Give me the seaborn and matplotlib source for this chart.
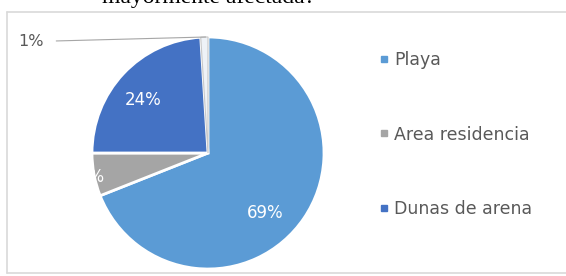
import numpy as np
import seaborn as sns
import matplotlib.pyplot as plt
from matplotlib.lines import Line2D

labels = ['Playa', 'Area residencia', 'Dunas de arena', 'Otro']
values = [69, 6, 24, 1]
pct_text = ['69%', '6%', '24%', '1%']
colors = ['#5B9BD5', '#A5A5A5', '#4472C4', '#EEF2F7']

sns.set_style('white')
plt.rcParams['font.family'] = ['DejaVu Sans']

fig = plt.figure(figsize=(5.66, 2.76), dpi=100)

# chart frame: top, left and bottom edges only, the right side runs off the image
x0, y0, y1 = 7 / 566, 3 / 276, 264 / 276
for xs, ys in [([x0, 1], [y1, y1]), ([x0, x0], [y0, y1]), ([x0, 1], [y0, y0])]:
    fig.add_artist(Line2D(xs, ys, transform=fig.transFigure, color='#d9d9d9', lw=1.2))

# cut-off question title above the chart
fig.text(209 / 566, 1 - 3.5 / 276, 'mayormente afectada?', ha='center', va='baseline',
         family='Liberation Serif', fontsize=17, color='black')

ax = fig.add_axes([92 / 566, 7 / 276, 232 / 566, 232 / 276])
wedges, _ = ax.pie(values, colors=colors, startangle=90, counterclock=False,
                   wedgeprops=dict(edgecolor='white', linewidth=2))
wedges[3].set_edgecolor('#c8c8c8')
wedges[3].set_linewidth(0.8)
ax.set_xlim(-1, 1)
ax.set_ylim(-1, 1)
ax.set_aspect('equal')

fs = 12
ax.text(0.49, -0.52, pct_text[0], color='white', fontsize=fs, ha='center', va='center')
ax.text(-1.0, -0.21, pct_text[1], color='white', fontsize=fs, ha='center', va='center')
ax.text(-0.56, 0.46, pct_text[2], color='white', fontsize=fs, ha='center', va='center')
ax.annotate(pct_text[3], xy=(-0.02, 1.0), xytext=(-1.53, 0.96), color='#595959',
            fontsize=11.5, ha='center', va='center', annotation_clip=False,
            arrowprops=dict(arrowstyle='-', color='#a6a6a6', lw=0.8, shrinkA=7, shrinkB=0))

handles = [Line2D([], [], marker='s', ls='', markersize=5, color=c) for c in colors[:3]]
fig.legend(handles, labels[:3], loc='center left', bbox_to_anchor=(379 / 566, 1 - 134.5 / 276),
           frameon=False, fontsize=12.5, labelcolor='#595959', labelspacing=3.25,
           handlelength=0.6, handletextpad=0.25, borderpad=0, borderaxespad=0)

fig.savefig('out.png', dpi=100)
